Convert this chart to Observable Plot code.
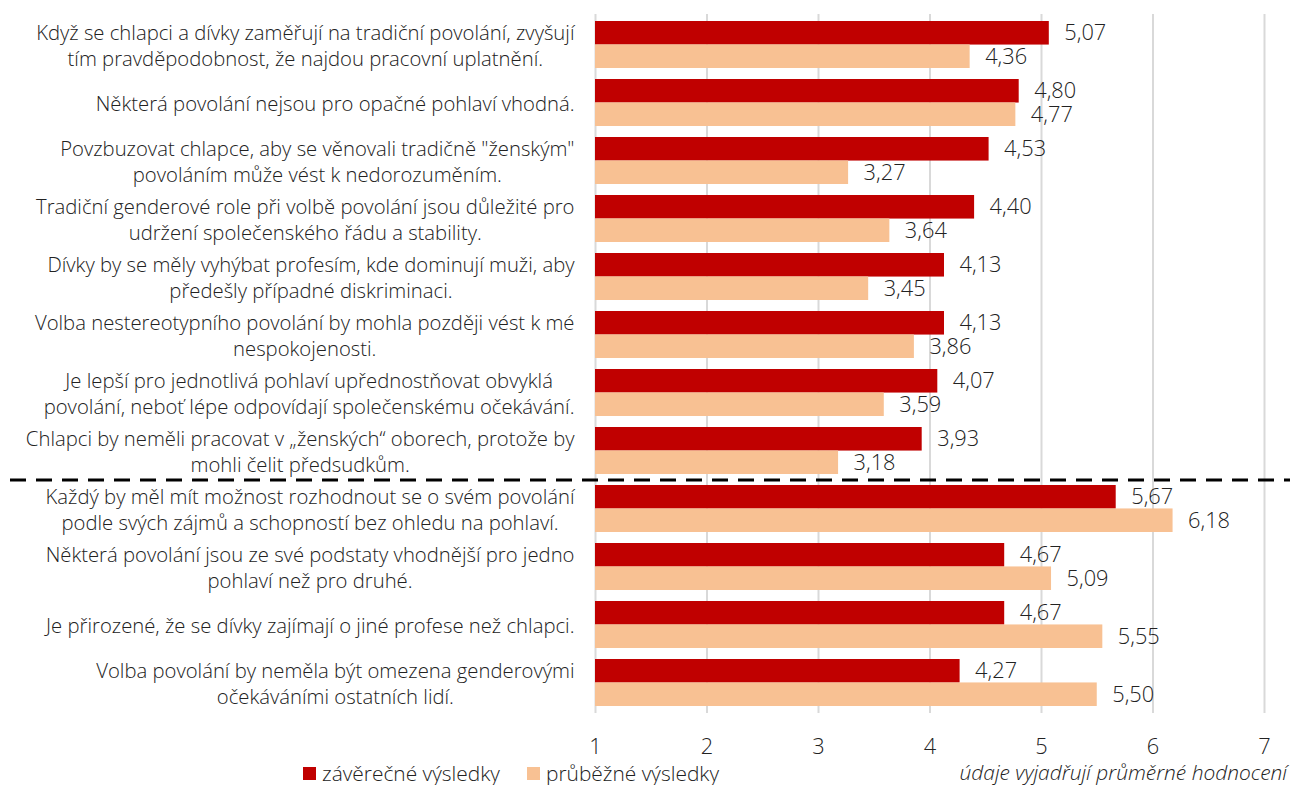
<!DOCTYPE html>
<html><head><meta charset="utf-8">
<script src="https://cdn.jsdelivr.net/npm/d3@7"></script>
<script src="https://cdn.jsdelivr.net/npm/@observablehq/plot@0.6"></script>
<style>
body{margin:0;background:#fff;overflow:hidden;}
#wrap{position:relative;width:1291px;}
#chart svg{display:block;}
#foot{position:relative;height:26px;width:1291px;color:#222;line-height:1;}
.leg{position:absolute;display:flex;align-items:center;white-space:nowrap;line-height:1;}
.sw{display:inline-block;width:13px;height:13px;margin-right:6px;}
#note{position:absolute;right:4px;font-style:italic;white-space:nowrap;line-height:1;}
</style></head><body><div id="wrap"><div id="chart"></div><div id="foot"></div></div>
<script>
const categories = [
  "Když se chlapci a dívky zaměřují na tradiční povolání, zvyšují\ntím pravděpodobnost, že najdou pracovní uplatnění.",
  "Některá povolání nejsou pro opačné pohlaví vhodná.",
  "Povzbuzovat chlapce, aby se věnovali tradičně \"ženským\"\npovoláním může vést k nedorozuměním.",
  "Tradiční genderové role při volbě povolání jsou důležité pro\nudržení společenského řádu a stability.",
  "Dívky by se měly vyhýbat profesím, kde dominují muži, aby\npředešly případné diskriminaci.",
  "Volba nestereotypního povolání by mohla později vést k mé\nnespokojenosti.",
  "Je lepší pro jednotlivá pohlaví upřednostňovat obvyklá\npovolání, neboť lépe odpovídají společenskému očekávání.",
  "Chlapci by neměli pracovat v „ženských“ oborech, protože by\nmohli čelit předsudkům.",
  "Každý by měl mít možnost rozhodnout se o svém povolání\npodle svých zájmů a schopností bez ohledu na pohlaví.",
  "Některá povolání jsou ze své podstaty vhodnější pro jedno\npohlaví než pro druhé.",
  "Je přirozené, že se dívky zajímají o jiné profese než chlapci.",
  "Volba povolání by neměla být omezena genderovými\nočekáváními ostatních lidí."
];
const finalValues   = [5.07, 4.80, 4.53, 4.40, 4.13, 4.13, 4.07, 3.93, 5.67, 4.67, 4.67, 4.27];
const interimValues = [4.36, 4.77, 3.27, 3.64, 3.45, 3.86, 3.59, 3.18, 6.18, 5.09, 5.55, 5.50];
const xTicks = [1, 2, 3, 4, 5, 6, 7];
const seriesNames = ["závěrečné výsledky", "průběžné výsledky"];
const seriesColors = ["#C00000", "#F8C193"];
const separatorBefore = categories[8];
const noteText = "údaje vyjadřují průměrné hodnocení";

const FAMILY = "'Open Sans', 'Noto Sans', sans-serif";
const WEIGHT = 300;
const W = 1291, H = 759, MT = 14, MB = 46, ML = 595, MR = 27;
const PI = 0.195, PO = 0.1;

const cv = document.createElement("canvas").getContext("2d");
function measure(s, fs){ cv.font = `${WEIGHT} ${fs}px ${FAMILY}`; return cv.measureText(s).width; }
const FS = 100 * 479 / measure("Některá povolání nejsou pro opačné pohlaví vhodná.", 100);
const NFS = 100 * 42 / measure("5,07", 100);
const LFS = 100 * 178 / measure(seriesNames[0], 100);

const rows = categories.map((c, i) => ({cat: c, final: finalValues[i], interim: interimValues[i]}));
const fmt = v => d3.format(".2f")(v).replace(".", ",");
const step = (H - MT - MB) / (categories.length - PI + 2 * PO);
const bw = step * (1 - PI);

const labelMarks = categories.map(c => {
  const w = d3.max(c.split("\n"), l => measure(l, FS));
  return Plot.text([c], {y: d => d, frameAnchor: "left", text: d => d, textAnchor: "middle",
    dx: -21 - w / 2, lineHeight: 1.27, lineWidth: Infinity, fill: "#222", fontSize: FS});
});

const chart = Plot.plot({
  width: W, height: H, marginTop: MT, marginBottom: MB, marginLeft: ML, marginRight: MR,
  style: {fontFamily: FAMILY, fontWeight: WEIGHT, fontSize: FS + "px", background: "#fff", color: "#222"},
  x: {domain: [xTicks[0], xTicks[xTicks.length - 1]]},
  y: {domain: categories, paddingInner: PI, paddingOuter: PO, axis: null},
  marks: [
    Plot.gridX(xTicks, {stroke: "#d9d9d9", strokeOpacity: 1, strokeWidth: 2}),
    Plot.barX(rows, {y: "cat", x1: xTicks[0], x2: "final", fill: seriesColors[0], insetBottom: bw / 2}),
    Plot.barX(rows, {y: "cat", x1: xTicks[0], x2: "interim", fill: seriesColors[1], insetTop: bw / 2}),
    Plot.text(rows, {y: "cat", x: "final", text: d => fmt(d.final), dx: 15, dy: -bw / 4, textAnchor: "start", fill: "#222", fontSize: NFS}),
    Plot.text(rows, {y: "cat", x: "interim", text: d => fmt(d.interim), dx: 15, dy: bw / 4, textAnchor: "start", fill: "#222", fontSize: NFS}),
    Plot.ruleY([separatorBefore], {y: d => d, dy: -step / 2, stroke: "#000", strokeWidth: 3, strokeDasharray: "16,10", insetLeft: -(ML - 10), insetRight: -(1290 - (W - MR))}),
    Plot.axisX(xTicks, {tickSize: 0, tickPadding: 25, label: null, fontSize: NFS, fill: "#222"}),
    ...labelMarks
  ]
});
document.getElementById("chart").appendChild(chart);

const foot = document.getElementById("foot");
foot.style.fontFamily = FAMILY; foot.style.fontWeight = WEIGHT; foot.style.fontSize = LFS + "px";
const legX = [303, 527];
seriesNames.forEach((n, i) => {
  const d = document.createElement("div"); d.className = "leg"; d.style.left = legX[i] + "px";
  d.style.top = "4px";
  const s = document.createElement("span"); s.className = "sw"; s.style.background = seriesColors[i];
  d.appendChild(s); d.appendChild(document.createTextNode(n)); foot.appendChild(d);
});
const nt = document.createElement("div"); nt.id = "note"; nt.textContent = noteText;
nt.style.top = "3px"; foot.appendChild(nt);
</script></body></html>
